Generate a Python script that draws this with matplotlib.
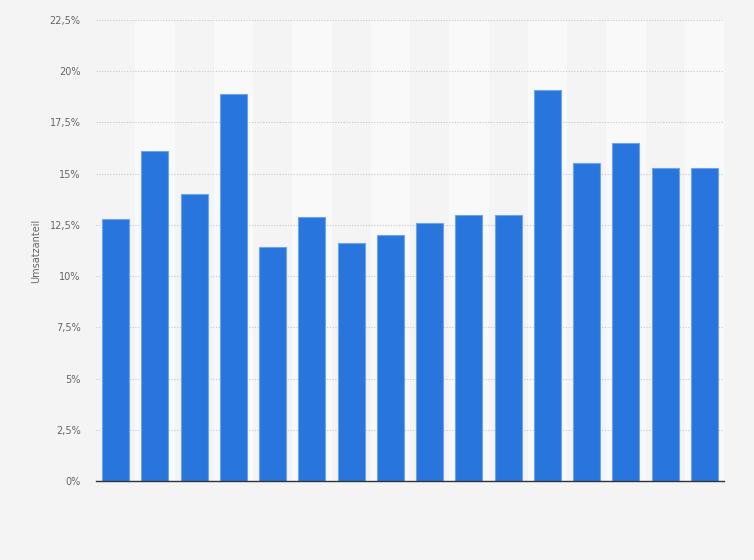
import matplotlib
matplotlib.use("Agg")
import matplotlib.pyplot as plt
from matplotlib.ticker import FuncFormatter

categories = [str(i) for i in range(1, 17)]
values = [12.8, 16.1, 14.0, 18.9, 11.4, 12.9, 11.6, 12.0, 12.6, 13.0, 13.0, 19.1, 15.5, 16.5, 15.3, 15.3]
yticks = [0, 2.5, 5, 7.5, 10, 12.5, 15, 17.5, 20, 22.5]

fig = plt.figure(figsize=(7.54, 5.6), dpi=100)
fig.patch.set_facecolor("#f4f4f4")
ax = fig.add_axes([96/754, 1 - 481/560, (724-96)/754, (481-20)/560])
ax.set_facecolor("#f4f4f4")

x = list(range(len(categories)))
for i in x:
    if i % 2 == 1:
        ax.axvspan(i - 0.5, i + 0.5, color="#f9f9f9", zorder=0, lw=0)

ax.bar(x, values, width=0.69, color="#2876dd", edgecolor="#6fa3ea", linewidth=0.8, zorder=3)

ax.set_xlim(-0.5, len(categories) - 0.5)
ax.set_ylim(0, 22.5)
ax.set_yticks(yticks)
ax.yaxis.set_major_formatter(FuncFormatter(lambda v, p: (f"{v:g}".replace(".", ",")) + "%"))
ax.set_xticks([])
ax.grid(axis="y", color="#c8c8c8", linestyle=(0, (1, 1.5)), linewidth=0.8, zorder=1)
ax.tick_params(axis="y", length=0, labelsize=7, labelcolor="#666666", pad=11)
for s in ["top", "right", "left"]:
    ax.spines[s].set_visible(False)
ax.spines["bottom"].set_color("#333333")
ax.spines["bottom"].set_linewidth(1.0)
ax.spines["bottom"].set_zorder(4)
ax.set_ylabel("Umsatzanteil", fontsize=7, color="#666666", labelpad=6)

fig.savefig("out.png", dpi=100, facecolor=fig.get_facecolor())
